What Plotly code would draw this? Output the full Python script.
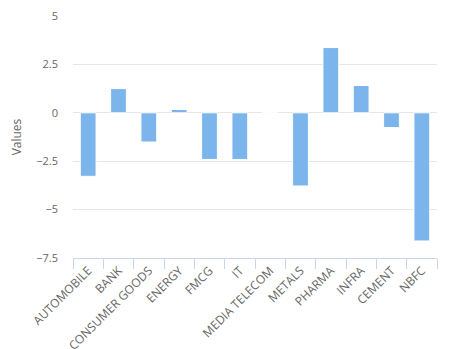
import plotly.graph_objects as go

categories = ["AUTOMOBILE", "BANK", "CONSUMER GOODS", "ENERGY", "FMCG", "IT",
              "MEDIA TELECOM", "METALS", "PHARMA", "INFRA", "CEMENT", "NBFC"]
values = [-3.28, 1.25, -1.51, 0.17, -2.41, -2.41, 0.0, -3.78, 3.37, 1.41, -0.76, -6.62]
y_ticks = [-7.5, -5, -2.5, 0, 2.5, 5]
y_tick_text = ["−7.5", "−5", "−2.5", "0", "2.5", "5"]

fig = go.Figure(go.Bar(
    x=categories, y=values,
    marker=dict(color="#7cb5ec", line=dict(color="#ffffff", width=1)),
    width=0.52,
))

font_family = "Open Sans, Lato, sans-serif"
fig.update_layout(
    width=465, height=349,
    margin=dict(l=73, r=28, t=16, b=91, autoexpand=False),
    plot_bgcolor="#ffffff", paper_bgcolor="#ffffff",
    showlegend=False,
    font=dict(family=font_family, size=11, color="#666666"),
)
fig.update_xaxes(
    type="category",
    tickson="boundaries",
    ticks="outside", ticklen=10, tickcolor="#ccd6eb", tickwidth=1,
    showline=True, linecolor="#ccd6eb", linewidth=1,
    showgrid=False,
    tickangle=-45,
    automargin=False,
    tickfont=dict(size=12, color="#666666"),
)
fig.update_yaxes(
    range=[-7.5, 5],
    tickvals=y_ticks, ticktext=y_tick_text,
    showgrid=True, gridcolor="#e6e6e6", gridwidth=1,
    zeroline=False,
    showline=False,
    automargin=False,
    ticks="", ticklabelstandoff=14,
    tickfont=dict(size=11, color="#666666"),
    title=dict(text="Values", font=dict(size=12, color="#666666"), standoff=12),
)

fig.write_html("out.html")
